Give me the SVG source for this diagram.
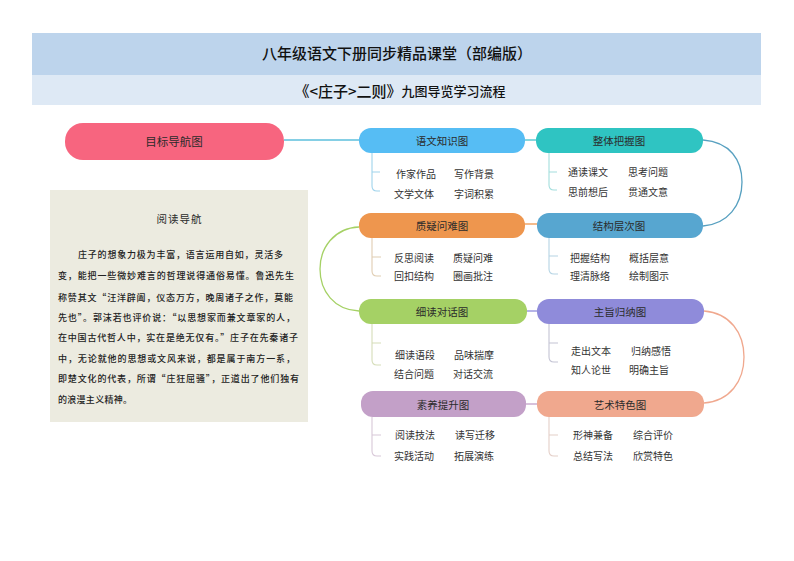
<svg xmlns="http://www.w3.org/2000/svg" width="794" height="561" viewBox="0 0 794 561">
<style>
text{font-family:"Noto Sans CJK SC","Noto Sans",sans-serif;fill:#2b2b2b;text-anchor:middle;dominant-baseline:central}
.t{font-size:15px;font-weight:500;fill:#111}
.s{font-weight:500;fill:#111}
.n{font-size:10.5px;transform:translateY(-1px)}
.l{font-size:10px;fill:#333;transform:translateY(-1px)}
.p{font-size:9px;text-anchor:start;fill:#222;font-weight:500}
.c{fill:none;stroke-width:1.3}
.b{fill:none;stroke-width:1.1}
</style>
<rect id="band-top" x="32" y="33" width="729" height="42" fill="#BDD4EC"/>
<rect id="band-sub" x="32" y="75" width="729" height="30" fill="#DEE9F5"/>
<text class="t" x="397" y="52">八年级语文下册同步精品课堂（部编版）</text>
<text class="s" x="400" y="90"><tspan font-size="15">《&lt;庄子&gt;二则》</tspan><tspan font-size="13">九图导览学习流程</tspan></text>
<g id="connectors">
<path class="c" stroke="#5CBFDD" d="M284 140H359"/>
<path class="c" stroke="#45C2CC" d="M525 140H536"/>
<path class="c" stroke="#57A0C0" d="M703 140C730 142 742 160 742 182C742 205 728 224 703 226"/>
<path class="c" stroke="#EE964E" d="M525 224H537"/>
<path class="c" stroke="#A5D165" d="M359 227C334 228 320 248 320 269C320 291 334 310 359 311"/>
<path class="c" stroke="#8F8BDA" d="M527 311H537"/>
<path class="c" stroke="#F0A88E" d="M704 311C730 313 744 333 744 357C744 381 730 401 704 403"/>
<path class="c" stroke="#C3A0C8" d="M526 404H537"/>
<path class="b" stroke="#9FD3EC" d="M372 153V186Q372 191 377 191H380M372 172H380"/>
<path class="b" stroke="#A3DEDD" d="M549 153V185Q549 190 554 190H557M549 172H557"/>
<path class="b" stroke="#E0CDB2" d="M372 238V271Q372 276 377 276H381M372 257H381"/>
<path class="b" stroke="#B5D4E4" d="M549 238V269Q549 274 554 274H558M549 256H558"/>
<path class="b" stroke="#D5DDB8" d="M372 324V360Q372 365 377 365H381M372 343H381"/>
<path class="b" stroke="#C4C4D4" d="M549 324V357Q549 362 554 362H558M549 343H558"/>
<path class="b" stroke="#D8C8D8" d="M372 417V451Q372 456 377 456H381M372 435H381"/>
<path class="b" stroke="#E4CFC8" d="M549 417V451Q549 456 554 456H558M549 435H558"/>
</g>
<g id="node-target"><rect x="65" y="123" width="219" height="37" rx="18" fill="#F7657F"/><text x="174" y="141" font-size="11.5">目标导航图</text></g>
<g id="node-yuwen"><rect x="359" y="128" width="166" height="25" rx="12" fill="#56BDF4"/><text class="n" x="442" y="141">语文知识图</text><text class="l" x="416" y="174">作家作品</text><text class="l" x="474" y="174">写作背景</text><text class="l" x="414" y="194">文学文体</text><text class="l" x="474" y="194">字词积累</text></g>
<g id="node-zhengti"><rect x="536" y="128" width="167" height="25" rx="12" fill="#2FC4C2"/><text class="n" x="619" y="141">整体把握图</text><text class="l" x="588" y="172">通读课文</text><text class="l" x="648" y="172">思考问题</text><text class="l" x="588" y="192">思前想后</text><text class="l" x="648" y="192">贯通文意</text></g>
<g id="node-zhiyi"><rect x="359" y="213" width="166" height="25" rx="12" fill="#EE964E"/><text class="n" x="442" y="226">质疑问难图</text><text class="l" x="414" y="258">反思阅读</text><text class="l" x="473" y="258">质疑问难</text><text class="l" x="414" y="276">回扣结构</text><text class="l" x="473" y="276">圈画批注</text></g>
<g id="node-jiegou"><rect x="537" y="213" width="166" height="25" rx="12" fill="#57A6D0"/><text class="n" x="619" y="226">结构层次图</text><text class="l" x="590" y="258">把握结构</text><text class="l" x="649" y="258">概括层意</text><text class="l" x="590" y="276">理清脉络</text><text class="l" x="649" y="276">绘制图示</text></g>
<g id="node-xidu"><rect x="359" y="299" width="168" height="25" rx="12" fill="#A5D165"/><text class="n" x="442" y="312">细读对话图</text><text class="l" x="415" y="355">细读语段</text><text class="l" x="474" y="355">品味揣摩</text><text class="l" x="414" y="374">结合问题</text><text class="l" x="473" y="374">对话交流</text></g>
<g id="node-zhuzhi"><rect x="537" y="299" width="167" height="25" rx="12" fill="#8F8BDA"/><text class="n" x="620" y="312">主旨归纳图</text><text class="l" x="591" y="351">走出文本</text><text class="l" x="651" y="351">归纳感悟</text><text class="l" x="591" y="370">知人论世</text><text class="l" x="649" y="370">明确主旨</text></g>
<g id="node-suyang"><rect x="361" y="391" width="165" height="26" rx="12" fill="#C3A0C8"/><text class="n" x="443" y="405">素养提升图</text><text class="l" x="415" y="435">阅读技法</text><text class="l" x="475" y="435">读写迁移</text><text class="l" x="414" y="456">实践活动</text><text class="l" x="474" y="456">拓展演练</text></g>
<g id="node-yishu"><rect x="537" y="391" width="167" height="26" rx="12" fill="#F0A88E"/><text class="n" x="620" y="405">艺术特色图</text><text class="l" x="593" y="435">形神兼备</text><text class="l" x="653" y="435">综合评价</text><text class="l" x="593" y="456">总结写法</text><text class="l" x="653" y="456">欣赏特色</text></g>
<g id="panel-reading">
<rect x="50" y="190" width="258" height="232" fill="#ECEBE0"/>
<text x="179" y="218" font-size="10.5" textLength="45" lengthAdjust="spacing">阅读导航</text>
<text class="p" x="78" y="254" textLength="205" lengthAdjust="spacing">庄子的想象力极为丰富，语言运用自如，灵活多</text>
<text class="p" x="58" y="275" textLength="236" lengthAdjust="spacing">变，能把一些微妙难言的哲理说得通俗易懂。鲁迅先生</text>
<text class="p" x="58" y="297" textLength="235" lengthAdjust="spacing">称赞其文“汪洋辟阖，仪态万方，晚周诸子之作，莫能</text>
<text class="p" x="58" y="317" textLength="237" lengthAdjust="spacing">先也”。郭沫若也评价说：“以思想家而兼文章家的人，</text>
<text class="p" x="58" y="337" textLength="240" lengthAdjust="spacing">在中国古代哲人中，实在是绝无仅有。”庄子在先秦诸子</text>
<text class="p" x="58" y="358" textLength="237" lengthAdjust="spacing">中，无论就他的思想或文风来说，都是属于南方一系，</text>
<text class="p" x="58" y="378" textLength="241" lengthAdjust="spacing">即楚文化的代表，所谓“庄狂屈骚”，正道出了他们独有</text>
<text class="p" x="58" y="399" textLength="74" lengthAdjust="spacing">的浪漫主义精神。</text>
</g>
</svg>
